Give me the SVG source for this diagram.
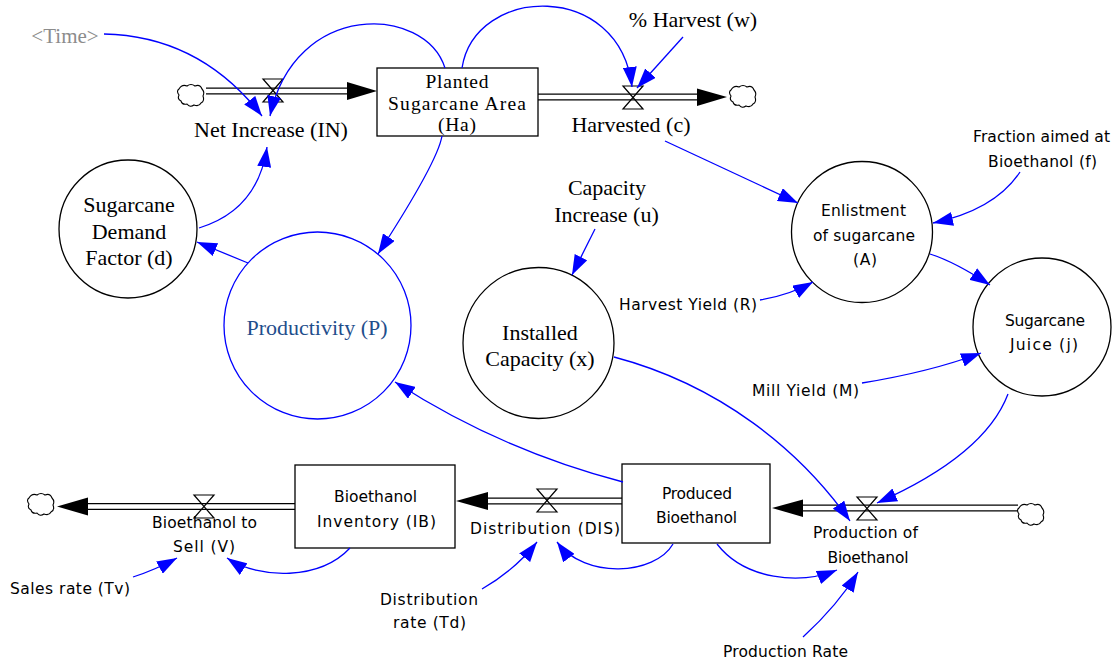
<svg xmlns="http://www.w3.org/2000/svg" width="1116" height="665" viewBox="0 0 1116 665">
  <style>
    .serif { font-family: "Liberation Serif", "Times New Roman", serif; font-size: 22px; fill: #000; text-anchor: middle; }
    .stocktxt { font-family: "Liberation Serif", "Times New Roman", serif; font-size: 19.5px; fill: #000; text-anchor: middle; }
    .sans { font-family: "DejaVu Sans", "Liberation Sans", sans-serif; font-size: 15.5px; fill: #000; text-anchor: middle; }
    .stock { fill: #fff; stroke: #000; stroke-width: 1.3; }
    .aux { fill: #fff; stroke: #000; stroke-width: 1.3; }
    .pipe-out { stroke: #000; stroke-width: 7; fill: none; }
    .pipe-in { stroke: #fff; stroke-width: 4.4; fill: none; }
    .valve { fill: none; stroke: #000; stroke-width: 1.2; }
    .head { fill: #000; }
    .cloud { fill: #fff; stroke: #000; stroke-width: 1.1; }
    .link { fill: none; stroke: #0000ff; stroke-width: 1.3; marker-end: url(#ah); }
  </style>
  <defs>
    <marker id="ah" markerUnits="userSpaceOnUse" markerWidth="21" markerHeight="14" refX="20" refY="7" orient="auto">
      <path d="M0,0 L20,7 L0,14 z" fill="#0000ff"/>
    </marker>
    <path id="cloudShape" class="cloud" d="M4,6 q3,-5 8,-3 q4,-3 8,0 q5,-2 7,3 q3,3 1,7 q2,5 -2,7 q-2,4 -7,2 q-4,3 -7,-1 q-5,1 -6,-3 q-4,-2 -2,-6 q-3,-4 0,-6 z"/>
    <path id="valveShape" class="valve" d="M-10,-11.5 L10,-11.5 L-10,11.5 L10,11.5 Z"/>
  </defs>

  <rect width="1116" height="665" fill="#fff"/>

  <!-- material flows (double pipes with heads) -->
  <g id="flows">
    <path class="pipe-out" d="M206,91 H350"/>
    <path class="pipe-in" d="M206,91 H350"/>
    <polygon class="head" points="347,82 377,91 347,100"/>

    <path class="pipe-out" d="M538,97 H700"/>
    <path class="pipe-in" d="M538,97 H700"/>
    <polygon class="head" points="697,88.5 727,97 697,106"/>

    <path class="pipe-out" d="M800,508 H1018"/>
    <path class="pipe-in" d="M800,508 H1018"/>
    <polygon class="head" points="803,499.5 772,508 803,517"/>

    <path class="pipe-out" d="M485,501 H622"/>
    <path class="pipe-in" d="M485,501 H622"/>
    <polygon class="head" points="488,492 456,501 488,510"/>

    <path class="pipe-out" d="M85,506.5 H295"/>
    <path class="pipe-in" d="M85,506.5 H295"/>
    <polygon class="head" points="88,497.5 57,506.5 88,515.5"/>
  </g>

  <!-- sources and sinks -->
  <g id="cloud-source-top"><use href="#cloudShape" transform="translate(175,83)"/></g>
  <g id="cloud-sink-top"><use href="#cloudShape" transform="translate(727,84)"/></g>
  <g id="cloud-source-bottom"><use href="#cloudShape" transform="translate(1015,502)"/></g>
  <g id="cloud-sink-bottom"><use href="#cloudShape" transform="translate(25,492)"/></g>

  <!-- stocks -->
  <g id="planted-area">
    <rect class="stock" x="377" y="68" width="161" height="68"/>
    <text class="stocktxt" x="457" y="88" textLength="63">Planted</text>
    <text class="stocktxt" x="457" y="110" textLength="138">Sugarcane Area</text>
    <text class="stocktxt" x="457" y="131" textLength="38">(Ha)</text>
  </g>
  <g id="produced-bioethanol">
    <rect class="stock" x="622" y="464" width="148" height="79"/>
    <text class="sans" x="697" y="499" textLength="70">Produced</text>
    <text class="sans" x="696.5" y="523" textLength="81">Bioethanol</text>
  </g>
  <g id="bioethanol-inventory">
    <rect class="stock" x="295" y="465" width="160" height="83"/>
    <text class="sans" x="375.5" y="502" textLength="83">Bioethanol</text>
    <text class="sans" x="376.5" y="527" textLength="119">Inventory (IB)</text>
  </g>

  <!-- rates -->
  <g id="net-increase">
    <use href="#valveShape" transform="translate(273,90.5)"/>
    <text class="serif" x="271" y="137">Net Increase (IN)</text>
  </g>
  <g id="harvested">
    <use href="#valveShape" transform="translate(633,97.5)"/>
    <text class="serif" x="631" y="132">Harvested (c)</text>
  </g>
  <g id="production">
    <use href="#valveShape" transform="translate(867,508.5)"/>
    <text class="sans" x="865.5" y="538" textLength="105">Production of</text>
    <text class="sans" x="868" y="563" textLength="81">Bioethanol</text>
  </g>
  <g id="distribution">
    <use href="#valveShape" transform="translate(547,500.5)"/>
    <text class="sans" x="545" y="534" textLength="150">Distribution (DIS)</text>
  </g>
  <g id="to-sell">
    <use href="#valveShape" transform="translate(204,506.5)"/>
    <text class="sans" x="204.5" y="528" textLength="105">Bioethanol to</text>
    <text class="sans" x="204" y="552" textLength="62">Sell (V)</text>
  </g>

  <!-- auxiliaries drawn as circles -->
  <g id="demand-factor">
    <circle class="aux" cx="128" cy="229" r="69"/>
    <text class="serif" x="129" y="212">Sugarcane</text>
    <text class="serif" x="129" y="239">Demand</text>
    <text class="serif" x="129" y="265">Factor (d)</text>
  </g>
  <g id="productivity">
    <circle cx="317.5" cy="325.5" r="93.5" fill="#fff" stroke="#0000ff" stroke-width="1.3"/>
    <text class="serif" x="317" y="335" style="fill:#1f4e8c">Productivity (P)</text>
  </g>
  <g id="installed-capacity">
    <circle class="aux" cx="538.5" cy="343" r="75.5"/>
    <text class="serif" x="540" y="340">Installed</text>
    <text class="serif" x="540" y="366">Capacity (x)</text>
  </g>
  <g id="enlistment">
    <circle class="aux" cx="862" cy="232" r="70.5"/>
    <text class="sans" x="863.5" y="216" textLength="85">Enlistment</text>
    <text class="sans" x="864" y="241" textLength="102">of sugarcane</text>
    <text class="sans" x="865" y="265" textLength="24">(A)</text>
  </g>
  <g id="sugarcane-juice">
    <circle class="aux" cx="1042" cy="327" r="69"/>
    <text class="sans" x="1045" y="326" textLength="80">Sugarcane</text>
    <text class="sans" x="1044" y="350" textLength="68">Juice (j)</text>
  </g>

  <!-- plain variables -->
  <g id="time">
    <text class="serif" x="65" y="43" style="fill:#8c8c8c;font-size:21px">&lt;Time&gt;</text>
  </g>
  <g id="harvest-percent">
    <text class="serif" x="693" y="27">% Harvest (w)</text>
  </g>
  <g id="capacity-increase">
    <text class="serif" x="607" y="195">Capacity</text>
    <text class="serif" x="606.5" y="222">Increase (u)</text>
  </g>
  <g id="fraction-bioethanol">
    <text class="sans" x="1041.5" y="142" textLength="137">Fraction aimed at</text>
    <text class="sans" x="1042.5" y="167" textLength="109">Bioethanol (f)</text>
  </g>
  <g id="harvest-yield">
    <text class="sans" x="688" y="310" textLength="138">Harvest Yield (R)</text>
  </g>
  <g id="mill-yield">
    <text class="sans" x="805.5" y="396" textLength="107">Mill Yield (M)</text>
  </g>
  <g id="production-rate">
    <text class="sans" x="785.5" y="657" textLength="125">Production Rate</text>
  </g>
  <g id="distribution-rate">
    <text class="sans" x="429" y="605" textLength="98">Distribution</text>
    <text class="sans" x="429.5" y="628" textLength="73">rate (Td)</text>
  </g>
  <g id="sales-rate">
    <text class="sans" x="70" y="594" textLength="120">Sales rate (Tv)</text>
  </g>

  <!-- causal links -->
  <g id="connectors">
    <path class="link" d="M104,34 Q200,36 262,116"/>
    <path class="link" d="M445,68 C425,5 295,0 270,116"/>
    <path class="link" d="M462,68 C475,-15 620,-20 632,87"/>
    <path class="link" d="M683,37 L637,88"/>
    <path class="link" d="M665,141 L798,203"/>
    <path class="link" d="M1020,172 Q995,210 933,223"/>
    <path class="link" d="M930,254 Q955,262 990,285"/>
    <path class="link" d="M760,300 Q790,295 813,282"/>
    <path class="link" d="M862,383 Q930,372 981,353"/>
    <path class="link" d="M595,229 L572,275"/>
    <path class="link" d="M614,357 C720,385 800,450 850,521"/>
    <path class="link" d="M1008,394 Q985,455 877,503"/>
    <path class="link" d="M803,637 Q838,605 858,572"/>
    <path class="link" d="M717,544 C745,580 800,585 837,570"/>
    <path class="link" d="M673,544 C655,575 585,580 557,542"/>
    <path class="link" d="M482,589 Q515,570 537,542"/>
    <path class="link" d="M623,482 Q500,450 395,382"/>
    <path class="link" d="M442,136 C438,160 400,220 378,254"/>
    <path class="link" d="M248,263 L197,242"/>
    <path class="link" d="M199,228 Q258,210 267,147"/>
    <path class="link" d="M350,548 C320,580 260,580 227,558"/>
    <path class="link" d="M133,577 Q155,570 177,558"/>
  </g>
</svg>
